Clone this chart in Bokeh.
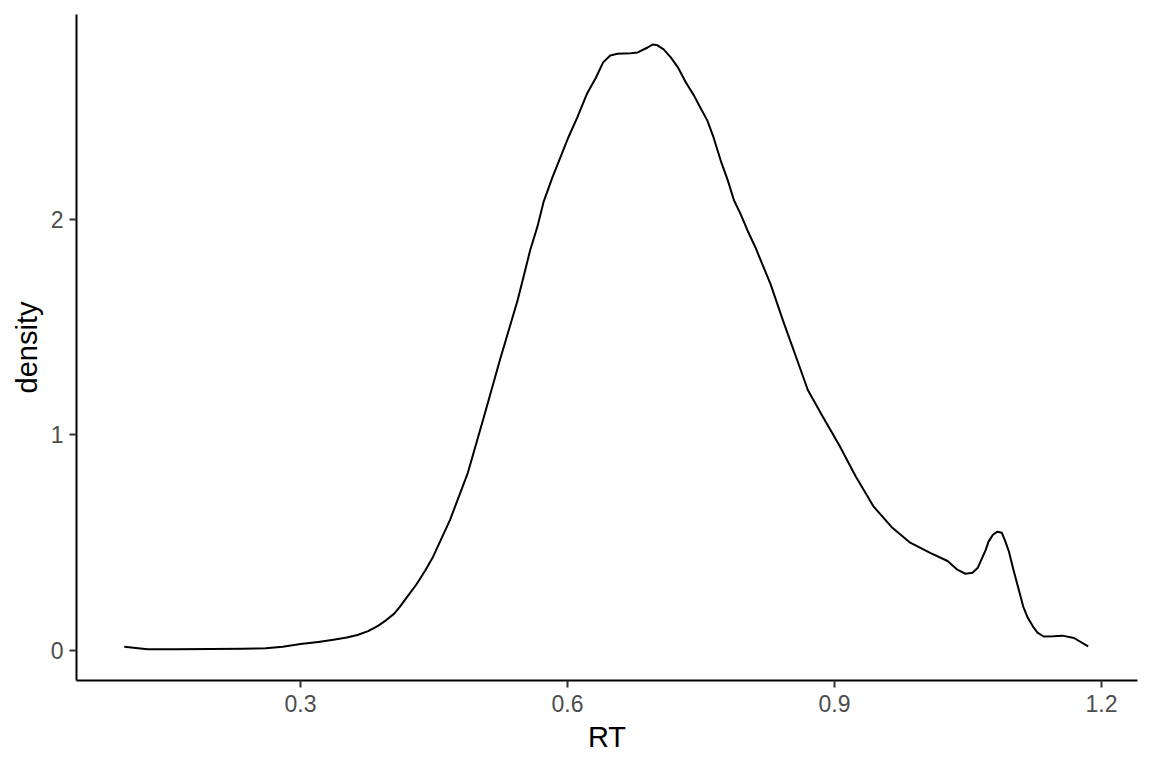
from bokeh.plotting import figure
from bokeh.models import Range1d, FixedTicker
from bokeh.embed import file_html
from bokeh.resources import INLINE

rt = [0.102, 0.128, 0.160, 0.200, 0.235, 0.261, 0.280, 0.300, 0.320, 0.337,
      0.352, 0.364, 0.376, 0.387, 0.396, 0.405, 0.412, 0.420, 0.430, 0.440,
      0.449, 0.468, 0.488, 0.506, 0.525, 0.544, 0.553, 0.558, 0.566, 0.573,
      0.583, 0.592, 0.601, 0.611, 0.622, 0.632, 0.640, 0.648, 0.656, 0.671,
      0.679, 0.690, 0.696, 0.701, 0.708, 0.716, 0.724, 0.733, 0.742, 0.749,
      0.757, 0.764, 0.772, 0.780, 0.787, 0.794, 0.802, 0.811, 0.820, 0.828,
      0.843, 0.858, 0.870, 0.887, 0.905, 0.924, 0.944, 0.965, 0.985, 1.008,
      1.027, 1.038, 1.047, 1.055, 1.061, 1.064, 1.070, 1.073, 1.078, 1.083,
      1.088, 1.092, 1.096, 1.101, 1.107, 1.112, 1.117, 1.123, 1.128, 1.135,
      1.146, 1.156, 1.169, 1.185]
density = [0.018, 0.006, 0.006, 0.007, 0.008, 0.010, 0.018, 0.030, 0.040, 0.050,
           0.060, 0.072, 0.090, 0.114, 0.140, 0.170, 0.205, 0.250, 0.305, 0.370,
           0.435, 0.606, 0.824, 1.083, 1.361, 1.625, 1.773, 1.856, 1.963, 2.079,
           2.194, 2.287, 2.380, 2.472, 2.583, 2.657, 2.727, 2.759, 2.767, 2.769,
           2.773, 2.796, 2.810, 2.806, 2.787, 2.750, 2.704, 2.634, 2.574, 2.519,
           2.458, 2.380, 2.273, 2.181, 2.088, 2.028, 1.950, 1.870, 1.780, 1.700,
           1.519, 1.347, 1.208, 1.083, 0.954, 0.806, 0.667, 0.569, 0.500, 0.452,
           0.415, 0.375, 0.356, 0.361, 0.384, 0.412, 0.468, 0.505, 0.537, 0.551,
           0.546, 0.505, 0.458, 0.375, 0.282, 0.204, 0.153, 0.111, 0.083, 0.065,
           0.066, 0.069, 0.058, 0.019]

x_ticks = [0.3, 0.6, 0.9, 1.2]
y_ticks = [0, 1, 2]

FONT = "Liberation Sans"

p = figure(width=1144, height=760, output_backend="svg", toolbar_location=None,
           x_range=Range1d(0.0483, 1.2404), y_range=Range1d(-0.139, 2.949),
           x_axis_label="RT", y_axis_label="density")
p.min_border_left = 76
p.min_border_right = 7
p.min_border_top = 14
p.min_border_bottom = 80
p.outline_line_color = None
p.background_fill_color = "white"
p.border_fill_color = "white"
p.xgrid.visible = False
p.ygrid.visible = False

p.line(rt, density, line_color="black", line_width=2, line_join="round")

p.xaxis.ticker = FixedTicker(ticks=x_ticks)
p.yaxis.ticker = FixedTicker(ticks=y_ticks)
for ax in (p.xaxis[0], p.yaxis[0]):
    ax.axis_line_color = "black"
    ax.axis_line_width = 2
    ax.major_tick_line_color = "#333333"
    ax.major_tick_line_width = 2
    ax.major_tick_out = 7
    ax.major_tick_in = 0
    ax.minor_tick_line_color = None
    ax.major_label_text_font = FONT
    ax.major_label_text_font_size = "23px"
    ax.major_label_text_color = "#4D4D4D"
    ax.axis_label_text_font = FONT
    ax.axis_label_text_font_size = "29px"
    ax.axis_label_text_font_style = "normal"
    ax.axis_label_text_color = "black"
p.xaxis[0].major_label_standoff = 7
p.yaxis[0].major_label_standoff = 6
p.xaxis[0].axis_label_standoff = 6
p.yaxis[0].axis_label_standoff = 5
p.yaxis[0].major_label_orientation = "horizontal"

open("out.html", "w").write(file_html(p, INLINE))
